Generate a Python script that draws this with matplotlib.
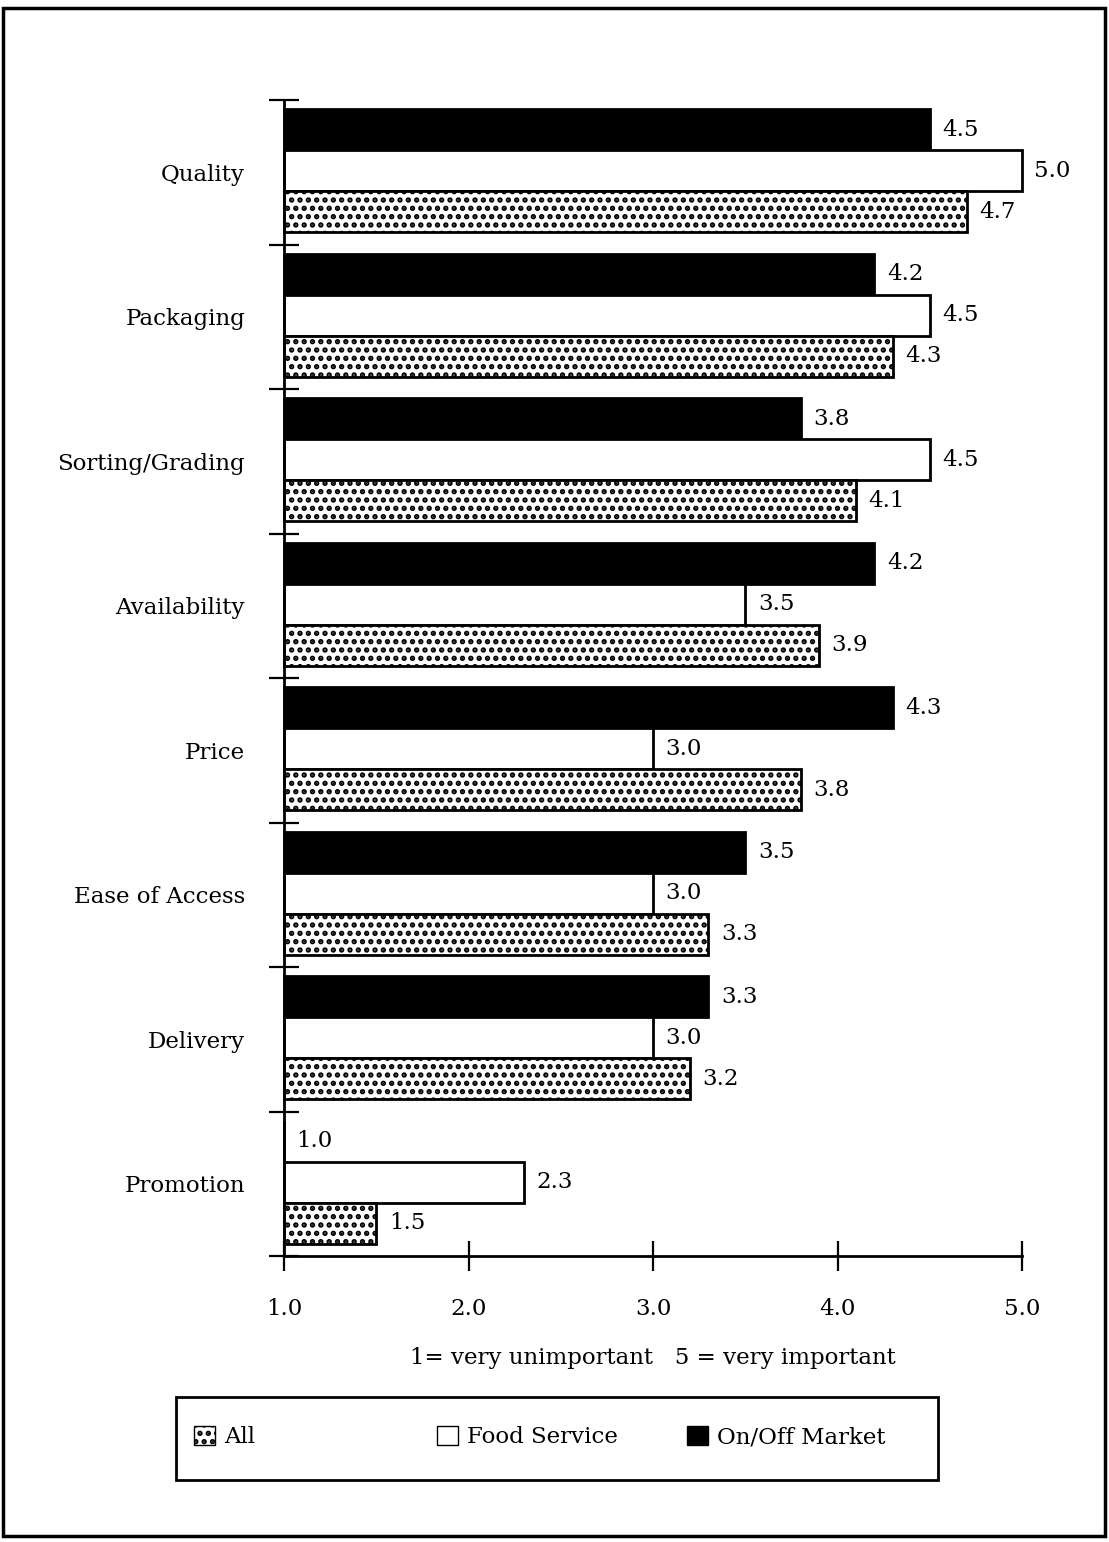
import matplotlib
matplotlib.use("Agg")

import matplotlib.pyplot as plt
from matplotlib.patches import Patch, Rectangle

categories = ["Quality", "Packaging", "Sorting/Grading", "Availability",
              "Price", "Ease of Access", "Delivery", "Promotion"]
on_off_market = [4.5, 4.2, 3.8, 4.2, 4.3, 3.5, 3.3, 1.0]
food_service = [5.0, 4.5, 4.5, 3.5, 3.0, 3.0, 3.0, 2.3]
all_resp = [4.7, 4.3, 4.1, 3.9, 3.8, 3.3, 3.2, 1.5]
xticks = [1.0, 2.0, 3.0, 4.0, 5.0]
xlabel = "1= very unimportant   5 = very important"

plt.rcParams["font.family"] = ["DejaVu Serif"]
plt.rcParams["hatch.linewidth"] = 2.6
FS = 16.5
HATCH = ".."

W, H = 1109, 1542
fig = plt.figure(figsize=(W / 100, H / 100), dpi=100)
ax = fig.add_axes([284 / W, 1 - 1256 / H, (1022 - 284) / W, (1256 - 100) / H])

bh = 0.284
series = [
    (on_off_market, -bh, dict(facecolor="black", edgecolor="black")),
    (food_service, 0.0, dict(facecolor="white", edgecolor="black")),
    (all_resp, bh, dict(facecolor="white", edgecolor="black", hatch=HATCH)),
]
for vals, off, style in series:
    ys = [i + 0.5 + off - 0.01 for i in range(len(categories))]
    widths = [v - 1.0 for v in vals]
    ax.barh(ys, widths, left=1.0, height=bh, linewidth=2, clip_on=False, **style)
    for y, v in zip(ys, vals):
        ax.annotate(f"{v:.1f}", (v, y), xytext=(9, 0), textcoords="offset points",
                    ha="left", va="center", fontsize=FS)

ax.set_xlim(1, 5)
ax.set_ylim(len(categories), 0)
for s in ("top", "right"):
    ax.spines[s].set_visible(False)
ax.spines["left"].set_linewidth(2)
ax.spines["bottom"].set_linewidth(2)

ax.set_xticks(xticks)
ax.set_xticklabels([f"{t:.1f}" for t in xticks], fontsize=FS)
ax.tick_params(axis="x", direction="inout", length=22, width=1.6, pad=19)

ax.set_yticks(range(len(categories) + 1))
ax.set_yticklabels([])
ax.set_yticks([i + 0.5 for i in range(len(categories))], minor=True)
ax.set_yticklabels(categories, minor=True, fontsize=FS)
ax.tick_params(axis="y", which="major", direction="inout", length=22, width=1.6)
ax.tick_params(axis="y", which="minor", length=0, pad=28)

ax.set_xlabel(xlabel, fontsize=FS, labelpad=20)

# legend box
fig.add_artist(Rectangle((176 / W, 1 - 1480 / H), (938 - 176) / W, 83 / H,
                         transform=fig.transFigure, fill=False,
                         edgecolor="black", linewidth=2))
handles = [
    Patch(facecolor="white", edgecolor="black", hatch=HATCH, label="All"),
    Patch(facecolor="white", edgecolor="black", label="Food Service"),
    Patch(facecolor="black", edgecolor="black", label="On/Off Market"),
]
for h, xpx in zip(handles, [194, 437, 687]):
    fig.legend(handles=[h], frameon=False, fontsize=FS, loc="center left",
               bbox_to_anchor=(xpx / W, 1 - 1437 / H),
               handlelength=0.9, handleheight=0.9, handletextpad=0.4,
               borderpad=0, borderaxespad=0)

# outer frame
fig.add_artist(Rectangle((3 / W, 1 - 1536 / H), 1102 / W, 1528 / H,
                         transform=fig.transFigure, fill=False,
                         edgecolor="black", linewidth=2.5))

fig.savefig("out.png", dpi=100)
